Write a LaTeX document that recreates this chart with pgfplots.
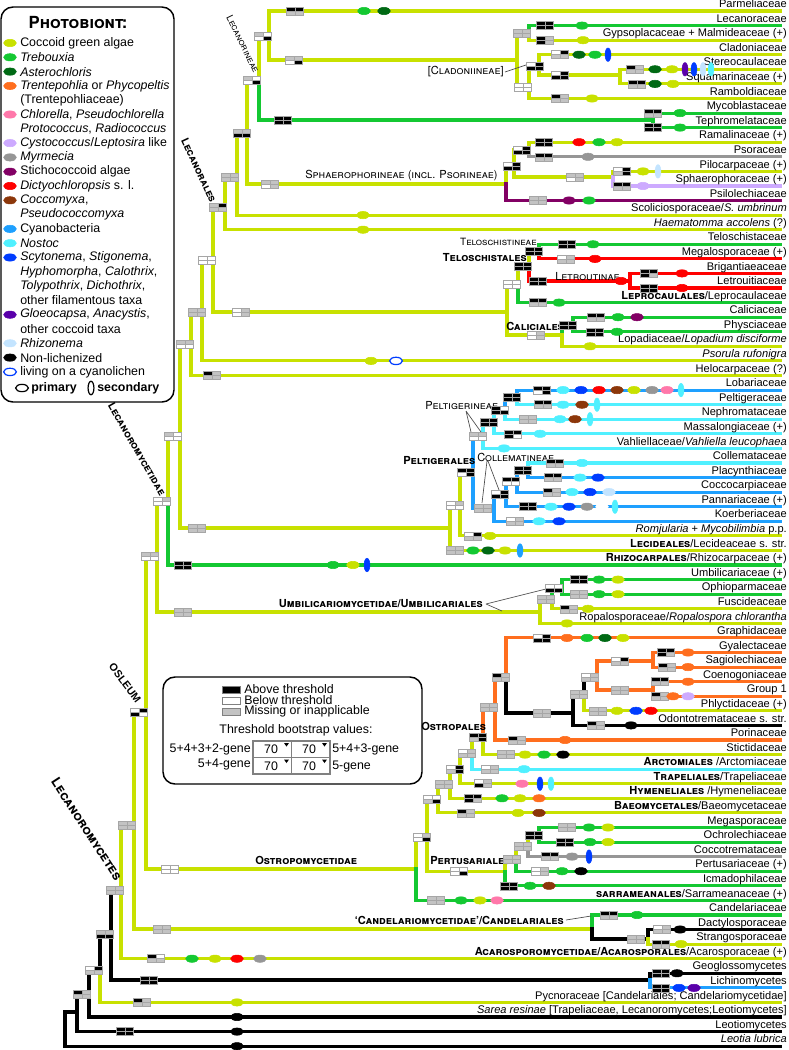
\documentclass[border=0pt]{standalone}
\usepackage{fontspec}
\setmainfont{Liberation Sans}
\newfontfamily\hsc{TeX Gyre Heros}
\usepackage{pgfplots}
\usepackage{pgfplotstable}
\pgfplotsset{compat=1.18}

\definecolor{cLime}{RGB}{200,225,0}
\definecolor{cTreb}{RGB}{20,200,50}
\definecolor{cAster}{RGB}{0,105,20}
\definecolor{cTrent}{RGB}{255,110,30}
\definecolor{cChlor}{RGB}{255,120,170}
\definecolor{cCysto}{RGB}{205,170,255}
\definecolor{cMyrm}{RGB}{150,150,150}
\definecolor{cStich}{RGB}{130,0,100}
\definecolor{cDict}{RGB}{255,0,0}
\definecolor{cCocco}{RGB}{140,55,10}
\definecolor{cCyano}{RGB}{30,160,255}
\definecolor{cNostoc}{RGB}{80,240,255}
\definecolor{cScyto}{RGB}{0,60,255}
\definecolor{cGloeo}{RGB}{90,0,170}
\definecolor{cRhizo}{RGB}{195,228,255}
\definecolor{cBox}{RGB}{195,195,195}

\newcommand\scx[1]{{\hsc\scshape #1}}
\newcommand\lfont{\fontsize{8.3}{9}\selectfont}
\newcommand\gfont{\fontsize{9.3}{10}\selectfont}

\pgfplotsset{
 brl/.style={line width=2.3pt, line join=miter, line cap=rect},
 eh/.style={only marks, mark=*, mark size=2.75pt, mark options={xscale=1.75, fill=#1, draw=#1}},
 ev/.style={only marks, mark=*, mark size=2.2pt, mark options={yscale=2.3, fill=#1, draw=#1}},
 boxm/.style={scatter, only marks, mark=square*, mark size=1.5pt, point meta=explicit symbolic,
   scatter/classes={K={fill=black,draw=gray!70}, W={fill=white,draw=gray!70}, G={fill=cBox,draw=gray!70}},
   mark options={xscale=2.15, line width=0.35pt}},
}
\newcommand\br[5]{\addplot[brl,color=#1] coordinates {(#2,#3)(#2,#4)(#5,#4)};}
\newcommand\leafl[2]{\node[anchor=base east, inner sep=0pt, yshift=2.5pt, font=\lfont] at (axis cs:787,#1) {#2};}
\newcommand\legi[2]{\node[anchor=west, inner sep=0pt, font=\gfont] at (axis cs:20,#1) {#2};}

\pgfplotstableread{
x y a b c d
295 11 K K G G
263 36 G W W K
294 60 G G W K
252 80 G W W K
283 120 K K K K
522 33 G G G G
545 25.6 K K K K
545 40.2 K G K G
535 66 W K K K
523 87 W W W W
560 54.7 W K G G
560 75 W K K K
635 69.3 K G G G
637 83.9 K K G G
560 98.5 K G G G
653 113.1 K K G G
653 127.6 K K K K
242 133 G G K K
230 177 G G G G
218 207 G K G G
270 184 G G W G
512 166 W K K K
522 150 W K K K
544 142.2 K K K K
544 156.8 K K G G
575 177 G G W G
622 171.4 W K G K
622 186 K K G G
538 200.5 G G G G
207 260 W W W W
241 312 W G W G
512 284 W W W W
523 266 K K K K
534 251 K K K K
567 244.3 K K K K
566 258.9 W G G G
538 281 K K K K
649 273.4 K K K G
649 288 K K K K
538 302.6 K K G G
536 335 W G W G
568 325 K K K K
596 317.2 K K G G
595 331.8 K K K K
197 312 G G G G
185 344 G G W W
212 375.5 K G G G
173 436 G W W W
162 501 W G W W
183 565 K K K K
197 528 G G G G
455 505 W G W W
455 550.5 G G G G
466 472 K K W K
473 535.9 W K G G
478 436 G G W W
489 422 K K K K
500 410 K W K K
512 397 K K K K
513 433.8 K K K W
528 419.2 G G G G
542 390.1 K K W K
543 404.7 K K G G
483 508 G G G G
500 494 W K K K
511 481 K K W W
523 470 K K K K
515 521.3 W G G G
528 506.7 K K K K
552 492.1 K G G G
555 463 K K G G
553 477.6 K K G G
150 556 G G W W
183 612 G G G G
546 599 G G G G
554 588 W W K K
579 579.6 K K K K
579 594.2 G G G G
569 608.8 K G G G
139 712 W K K W
170 869 W W W W
422 837 W G W K
436 900.4 G G G G
432 799 W W G K
459 871.2 W W W K
512 859 G G G G
523 846 G G G G
534 835 K K K K
567 827.5 G G G G
565 842.1 K K K K
550 856.6 K K G G
540 871.2 W G W G
509 885.8 K K K K
444 784 G G G G
466 812.9 K G G G
455 769 W K G K
473 798.3 K K K G
467 753 W G G G
483 783.7 W G K G
478 737 K K G K
490 769.2 W G G G
489 707 G G G G
506 754.6 G G G G
501 677 K G G G
517 740 K G G G
542 637.9 W K K K
542 713 G G G G
579 694 G G G G
596 725.4 K G G G
590 677 W G G G
598 710.8 G G G G
620 661 W K G G
620 690 G G G G
666 652.5 K K K G
667 667.1 K G G G
660 681.7 K K G G
660 696.3 K G G G
127 825 G G G G
162 929 G G G G
609 915 K K G G
636 939 G G G G
662 929.5 W G G G
661 944.1 K K G G
156 958.7 K W G G
115 890 G G G G
105 934 G G K K
149 980 K K K K
661 973.3 K K K K
661 987.9 K K K K
94 970 W K G G
142 1002.4 K G G G
82 994 K G G G
125 1031.6 K K K K
}\boxtab

\begin{document}
\begin{tikzpicture}
\begin{axis}[
  width=591.75pt, height=787.5pt, scale only axis,
  xmin=0, xmax=789, ymin=0, ymax=1050, y dir=reverse,
  enlargelimits=false, hide axis, clip=false]

% ---------- branches ----------
\br{black}{65}{1012}{1012}{77}
\br{black}{65}{1012}{1046.2}{780}
\br{black}{77}{1012}{994}{89}
\br{black}{77}{1012}{1031.6}{780}
\br{black}{89}{994}{970}{100}
\br{black}{89}{994}{1017}{780}
\br{black}{100}{970}{934}{111}
\br{cLime}{100}{970}{1002.4}{780}
\br{black}{111}{934}{890}{121}
\br{black}{111}{934}{980}{650}
\br{black}{650}{980}{973.3}{780}
\br{cCyano}{650}{980}{987.9}{780}
\br{cLime}{121}{890}{825}{134}
\br{cLime}{121}{890}{958.7}{780}
\br{cLime}{134}{825}{712}{146}
\br{cLime}{134}{825}{929}{592}
\br{cTreb}{592}{929}{915}{780}
\br{black}{592}{929}{939}{648}
\br{black}{648}{939}{929.5}{780}
\br{cLime}{648}{939}{944.1}{780}
\br{cLime}{146}{712}{556}{157}
\br{cLime}{146}{712}{869}{416}
\br{cLime}{416}{869}{837}{427}
\br{cTreb}{416}{869}{900.4}{780}
\br{cLime}{427}{837}{799}{438}
\br{cLime}{427}{837}{871.2}{505}
\br{cLime}{505}{871.2}{859}{516}
\br{cTreb}{505}{871.2}{885.8}{780}
\br{cLime}{516}{859}{846}{528}
\br{cTreb}{516}{859}{871.2}{780}
\br{cLime}{528}{846}{835}{539}
\br{cMyrm}{528}{846}{856.6}{780}
\br{cTreb}{539}{835}{827.5}{780}
\br{cTreb}{539}{835}{842.1}{780}
\br{cLime}{438}{799}{784}{450}
\br{cLime}{438}{799}{812.9}{780}
\br{cLime}{450}{784}{769}{460}
\br{cLime}{450}{784}{798.3}{780}
\br{cLime}{460}{769}{753}{472}
\br{cLime}{460}{769}{783.7}{780}
\br{cLime}{472}{753}{737}{483}
\br{cNostoc}{472}{753}{769.2}{780}
\br{cTrent}{483}{737}{707}{495}
\br{cLime}{483}{737}{754.6}{780}
\br{cTrent}{495}{707}{677}{506}
\br{cTrent}{495}{707}{740}{780}
\br{cTrent}{506}{677}{637.9}{780}
\br{black}{506}{677}{713}{573}
\br{black}{573}{713}{694}{584}
\br{black}{573}{713}{725.4}{780}
\br{black}{584}{694}{677}{597}
\br{cLime}{584}{694}{710.8}{780}
\br{cTrent}{597}{677}{661}{653}
\br{cTrent}{597}{677}{690}{653}
\br{cTrent}{653}{661}{652.5}{780}
\br{cTrent}{653}{661}{667.1}{780}
\br{cTrent}{653}{690}{681.7}{780}
\br{cTrent}{653}{690}{696.3}{780}
\br{cLime}{157}{556}{501}{168}
\br{cLime}{157}{556}{612}{540}
\br{cLime}{540}{612}{599}{552}
\br{cLime}{540}{612}{623.4}{780}
\br{cTreb}{552}{599}{588}{562}
\br{cLime}{552}{599}{608.8}{780}
\br{cTreb}{562}{588}{579.6}{780}
\br{cTreb}{562}{588}{594.2}{780}
\br{cLime}{168}{501}{436}{180}
\br{cTreb}{168}{501}{565}{780}
\br{cLime}{180}{436}{344}{191}
\br{cLime}{180}{436}{528}{450}
\br{cLime}{450}{528}{505}{460}
\br{cLime}{450}{528}{550.5}{780}
\br{cLime}{460}{505}{472}{473}
\br{cLime}{460}{505}{535.9}{780}
\br{cCyano}{473}{472}{436}{483}
\br{cCyano}{473}{472}{508}{494}
\br{cNostoc}{483}{436}{422}{494}
\br{cNostoc}{483}{436}{448.4}{780}
\br{cNostoc}{494}{422}{410}{505}
\br{cNostoc}{494}{422}{433.8}{780}
\br{cCyano}{505}{410}{397}{517}
\br{cNostoc}{505}{410}{419.2}{780}
\br{cCyano}{517}{397}{390.1}{780}
\br{cNostoc}{517}{397}{404.7}{780}
\br{cCyano}{494}{508}{494}{506}
\br{cCyano}{494}{508}{521.3}{780}
\br{cCyano}{506}{494}{481}{517}
\br{cCyano}{506}{494}{506.7}{780}
\br{cCyano}{517}{481}{470}{528}
\br{cCyano}{517}{481}{492.1}{780}
\br{cNostoc}{528}{470}{463}{780}
\br{cCyano}{528}{470}{477.6}{780}
\br{cLime}{191}{344}{312}{202}
\br{cLime}{191}{344}{375.5}{780}
\br{cLime}{202}{312}{260}{213}
\br{cLime}{202}{312}{360.9}{780}
\br{cLime}{213}{260}{207}{225}
\br{cLime}{213}{260}{312}{507}
\br{cLime}{225}{207}{177}{237}
\br{cLime}{225}{207}{229.7}{780}
\br{cLime}{237}{177}{133}{247}
\br{cLime}{237}{177}{215.1}{780}
\br{cLime}{247}{133}{80}{259}
\br{cLime}{247}{133}{184}{506}
\br{cLime}{259}{80}{36}{269}
\br{cTreb}{259}{80}{120}{653}
\br{cLime}{269}{36}{11}{780}
\br{cLime}{269}{36}{60}{517}
\br{cLime}{517}{60}{33}{529}
\br{cLime}{517}{60}{87}{529}
\br{cLime}{529}{87}{66}{539}
\br{cLime}{529}{87}{98.5}{780}
\br{cTreb}{529}{33}{25.6}{780}
\br{cLime}{529}{33}{40.2}{780}
\br{cLime}{539}{66}{54.7}{780}
\br{cLime}{539}{66}{75}{620}
\br{cLime}{620}{75}{69.3}{780}
\br{cLime}{620}{75}{83.9}{780}
\br{cTreb}{653}{120}{113.1}{780}
\br{cTreb}{653}{120}{127.6}{780}
\br{cLime}{506}{184}{166}{514}
\br{cStich}{506}{184}{200.5}{780}
\br{cLime}{514}{166}{150}{529}
\br{cLime}{514}{166}{177}{613}
\br{cLime}{529}{150}{142.2}{780}
\br{cMyrm}{529}{150}{156.8}{780}
\br{cLime}{613}{177}{171.4}{780}
\br{cCysto}{613}{177}{186}{780}
\br{cLime}{507}{312}{284}{518}
\br{cLime}{507}{312}{335}{562}
\br{cLime}{518}{284}{266}{529}
\br{cTreb}{518}{284}{302.6}{780}
\br{cLime}{529}{266}{251}{539}
\br{cDict}{529}{266}{281}{630}
\br{cTreb}{539}{251}{244.3}{780}
\br{cDict}{539}{251}{258.9}{780}
\br{cDict}{630}{281}{273.4}{780}
\br{cDict}{630}{281}{288}{780}
\br{cTreb}{562}{335}{325}{573}
\br{cLime}{562}{335}{346.3}{780}
\br{cTreb}{573}{325}{317.2}{780}
\br{cTreb}{573}{325}{331.8}{780}

% ---------- support boxes ----------
\addplot[boxm] table[x expr=\thisrow{x}-4.3, y expr=\thisrow{y}-2, meta=a] {\boxtab};
\addplot[boxm] table[x expr=\thisrow{x}+4.3, y expr=\thisrow{y}-2, meta=b] {\boxtab};
\addplot[boxm] table[x expr=\thisrow{x}-4.3, y expr=\thisrow{y}+2, meta=c] {\boxtab};
\addplot[boxm] table[x expr=\thisrow{x}+4.3, y expr=\thisrow{y}+2, meta=d] {\boxtab};

% ---------- photobiont ellipses ----------
\addplot[eh=cLime] coordinates {(10,43)(583,40.2)(672,69.3)(673,83.9)(592,98.5)(617,142.2)(643,171.4)(363,215.1)(363,229.7)(590,346.3)(371,360.9)(634,390.1)(505,550.5)(490,535.9)(353,565)(618,579.6)(618,594.2)(588,608.8)(567,623.4)(623,637.9)(617,710.8)(525,754.6)(520,798.3)(518,812.9)(608,827.5)(608,842.1)(480,900.4)(681,944.1)(215,958.7)(237,1002.4)};
\addplot[eh=cTreb] coordinates {(10,57.3)(364,11)(582,25.6)(595,54.7)(680,113.1)(680,127.6)(599,142.2)(589,200.5)(593,244.3)(559,302.6)(618,317.2)(617,331.8)(473,550.5)(333,565)(599,579.6)(599,594.2)(587,637.9)(544,754.6)(502,798.3)(589,827.5)(590,842.1)(562,871.2)(530,885.8)(461,900.4)(637,915)(192,958.7)};
\addplot[eh=cAster] coordinates {(10,71.6)(384,11)(579,54.7)(655,69.3)(655,83.9)(488,550.5)(605,637.9)};
\addplot[eh=cTrent] coordinates {(10,85.9)(567,637.9)(688,652.5)(688,667.1)(688,681.7)(673,696.3)(565,740)(539,798.3)};
\addplot[eh=cChlor] coordinates {(10,114.5)(667,390.1)(522,783.7)(497,900.4)};
\addplot[eh=cCysto] coordinates {(10,143.1)(643,186)(688,696.3)};
\addplot[eh=cMyrm] coordinates {(10,157.4)(588,156.8)(652,390.1)(587,506.7)(572,856.6)(260,958.7)};
\addplot[eh=cStich] coordinates {(10,171.7)(569,200.5)(637,317.2)};
\addplot[eh=cDict] coordinates {(10,186)(579,142.2)(595,258.9)(621,281)(682,273.4)(682,288)(599,390.1)(651,710.8)(237,958.7)};
\addplot[eh=cCocco] coordinates {(10,200.3)(617,390.1)(582,404.7)(575,419.2)(539,812.9)(549,885.8)};
\addplot[eh=cCyano] coordinates {(10,228.9)};
\addplot[eh=cNostoc] coordinates {(10,243.2)(563,390.1)(563,404.7)(560,419.2)(540,433.8)(504,448.4)(582,463)(580,477.6)(572,492.1)(551,506.7)(539,521.3)(524,769.2)};
\addplot[eh=cScyto] coordinates {(10,257.5)(581,390.1)(598,477.6)(590,492.1)(569,506.7)(559,521.3)(636,710.8)(679,987.9)};
\addplot[eh=cGloeo] coordinates {(10,314.7)(694,987.9)};
\addplot[eh=cRhizo] coordinates {(10,343.3)(609,492.1)};
\addplot[eh=black] coordinates {(10,357.6)(631,725.4)(563,754.6)(581,871.2)(680,929.5)(677,973.3)(237,1017)(237,1031.6)(237,1046.2)};
\addplot[eh=white] coordinates {(602,506.7)};
\addplot[only marks, mark=*, mark size=2.75pt, mark options={xscale=1.75, fill=white, draw=cScyto, line width=0.9pt}] coordinates {(396,360.9)(10,371.9)};
\addplot[only marks, mark=*, mark size=2.75pt, mark options={xscale=1.75, fill=white, draw=black, line width=0.9pt}] coordinates {(22,388)};
\addplot[only marks, mark=*, mark size=2.2pt, mark options={yscale=2.3, fill=white, draw=black, line width=0.9pt}] coordinates {(91,388)};
\addplot[ev=cScyto] coordinates {(608,54.7)(694,69.3)(367,565)(540,783.7)(589,856.6)};
\addplot[ev=cGloeo] coordinates {(685,69.3)};
\addplot[ev=cRhizo] coordinates {(703,69.3)(658,171.4)};
\addplot[ev=cNostoc] coordinates {(711,69.3)(681,390.1)(597,404.7)(590,419.2)(615,506.7)(551,783.7)};
\addplot[ev=cCyano] coordinates {(520,550.5)};

\node[font=\bfseries\fontsize{7}{7}\selectfont] at (axis cs:589,201) {?};
\node[font=\bfseries\fontsize{7}{7}\selectfont] at (axis cs:559,303) {?};
\node[font=\bfseries\fontsize{7}{7}\selectfont] at (axis cs:602,507) {?};

% ---------- leaf labels ----------
\leafl{11}{Parmeliaceae}
\leafl{25.6}{Lecanoraceae}
\leafl{40.2}{Gypsoplacaceae + Malmideaceae (+)}
\leafl{54.7}{Cladoniaceae}
\leafl{69.3}{Stereocaulaceae}
\leafl{83.9}{Squamarinaceae (+)}
\leafl{98.5}{Ramboldiaceae}
\leafl{113.1}{Mycoblastaceae}
\leafl{127.6}{Tephromelataceae}
\leafl{142.2}{Ramalinaceae (+)}
\leafl{156.8}{Psoraceae}
\leafl{171.4}{Pilocarpaceae (+)}
\leafl{186}{Sphaerophoraceae (+)}
\leafl{200.5}{Psilolechiaceae}
\leafl{215.1}{Scoliciosporaceae/\textit{S. umbrinum}}
\leafl{229.7}{\textit{Haematomma accolens} (?)}
\leafl{244.3}{Teloschistaceae}
\leafl{258.9}{Megalosporaceae (+)}
\leafl{273.4}{Brigantiaeaceae}
\leafl{288}{Letrouitiaceae}
\leafl{302.6}{\textbf{\scx{Leprocaulales}}/Leprocaulaceae}
\leafl{317.2}{Caliciaceae}
\leafl{331.8}{Physciaceae}
\leafl{346.3}{Lopadiaceae/\textit{Lopadium disciforme}}
\leafl{360.9}{\textit{Psorula rufonigra}}
\leafl{375.5}{Helocarpaceae (?)}
\leafl{390.1}{Lobariaceae}
\leafl{404.7}{Peltigeraceae}
\leafl{419.2}{Nephromataceae}
\leafl{433.8}{Massalongiaceae (+)}
\leafl{448.4}{Vahliellaceae/\textit{Vahliella leucophaea}}
\leafl{463}{Collemataceae}
\leafl{477.6}{Placynthiaceae}
\leafl{492.1}{Coccocarpiaceae}
\leafl{506.7}{Pannariaceae (+)}
\leafl{521.3}{Koerberiaceae}
\leafl{535.9}{\textit{Romjularia} + \textit{Mycobilimbia} p.p.}
\leafl{550.5}{\textbf{\scx{Lecideales}}/Lecideaceae s. str.}
\leafl{565}{\textbf{\scx{Rhizocarpales}}/Rhizocarpaceae (+)}
\leafl{579.6}{Umbilicariaceae (+)}
\leafl{594.2}{Ophioparmaceae}
\leafl{608.8}{Fuscideaceae}
\leafl{623.4}{Ropalosporaceae/\textit{Ropalospora chlorantha}}
\leafl{637.9}{Graphidaceae}
\leafl{652.5}{Gyalectaceae}
\leafl{667.1}{Sagiolechiaceae}
\leafl{681.7}{Coenogoniaceae}
\leafl{696.3}{Group 1}
\leafl{710.8}{Phlyctidaceae (+)}
\leafl{725.4}{Odontotremataceae s. str.}
\leafl{740}{Porinaceae}
\leafl{754.6}{Stictidaceae}
\leafl{769.2}{\textbf{\scx{Arctomiales}} /Arctomiaceae}
\leafl{783.7}{\textbf{\scx{Trapeliales}}/Trapeliaceae}
\leafl{798.3}{\textbf{\scx{Hymeneliales}} /Hymeneliaceae}
\leafl{812.9}{\textbf{\scx{Baeomycetales}}/Baeomycetaceae}
\leafl{827.5}{Megasporaceae}
\leafl{842.1}{Ochrolechiaceae}
\leafl{856.6}{Coccotremataceae}
\leafl{871.2}{Pertusariaceae (+)}
\leafl{885.8}{Icmadophilaceae}
\leafl{900.4}{\textbf{\scx{sarrameanales}}/Sarrameanaceae (+)}
\leafl{915}{Candelariaceae}
\leafl{929.5}{Dactylosporaceae}
\leafl{944.1}{Strangosporaceae}
\leafl{958.7}{\textbf{\scx{Acarosporomycetidae/Acarosporales}}/Acarosporaceae (+)}
\leafl{973.3}{Geoglossomycetes}
\leafl{987.9}{Lichinomycetes}
\leafl{1002.4}{Pycnoraceae [Candelariales; Candelariomycetidae]}
\leafl{1017}{\textit{Sarea resinae} [Trapeliaceae, Lecanoromycetes;Leotiomycetes]}
\leafl{1031.6}{Leotiomycetes}
\leafl{1046.2}{\textit{Leotia lubrica}}

% ---------- clade labels ----------
\node[anchor=east, inner sep=0pt, font=\lfont] at (axis cs:504,72) {\scx{[Cladoniineae]}};
\draw[black!70, line width=0.5pt] (axis cs:505,72) -- (axis cs:529,64);
\node[anchor=west, inner sep=0pt, font=\lfont] at (axis cs:305,176) {\scx{Sphaerophorineae (incl. Psorineae)}};
\node[anchor=east, inner sep=0pt, font=\fontsize{7.5}{8}\selectfont] at (axis cs:537,242) {\scx{Teloschistineae}};
\node[anchor=east, inner sep=0pt, font=\lfont\bfseries] at (axis cs:527,258) {\scx{Teloschistales}};
\node[anchor=west, inner sep=0pt, font=\lfont] at (axis cs:555,277) {\scx{Letroutinae}};
\node[anchor=west, inner sep=0pt, font=\lfont\bfseries] at (axis cs:506,326) {\scx{Caliciales}};
\node[anchor=west, inner sep=0pt, font=\lfont] at (axis cs:425,406) {\scx{Peltigerineae}};
\draw[black!70, line width=0.5pt] (axis cs:466,411) -- (axis cs:471,432) (axis cs:466,411) -- (axis cs:481,432);
\node[anchor=west, inner sep=0pt, font=\lfont\bfseries] at (axis cs:403,461) {\scx{Peltigerales}};
\node[anchor=west, inner sep=0pt, font=\lfont] at (axis cs:477,457) {\scx{Collematineae}};
\draw[black!70, line width=0.5pt] (axis cs:487,461) -- (axis cs:482,503) (axis cs:488,461) -- (axis cs:499,490);
\node[anchor=east, inner sep=0pt, font=\lfont\bfseries] at (axis cs:483,604) {\scx{Umbilicariomycetidae/Umbilicariales}};
\draw[black!70, line width=0.5pt] (axis cs:486,604) -- (axis cs:546,589) (axis cs:486,604) -- (axis cs:502,611);
\node[anchor=west, inner sep=0pt, font=\lfont\bfseries] at (axis cs:421,726) {\scx{Ostropales}};
\node[anchor=west, inner sep=0pt, font=\lfont\bfseries] at (axis cs:430,861) {\scx{Pertusariales}};
\node[anchor=west, inner sep=0pt, font=\lfont\bfseries] at (axis cs:255,860) {\scx{Ostropomycetidae}};
\node[anchor=east, inner sep=0pt, font=\lfont\bfseries] at (axis cs:564,920) {\scx{‘Candelariomycetidae’/Candelariales}};
\draw[black!70, line width=0.5pt] (axis cs:566,920) -- (axis cs:591,916);
\node[rotate=-64, inner sep=0pt, font=\fontsize{7.2}{8}\selectfont] at (axis cs:243,44) {\scx{Lecanorineae}};
\node[rotate=-65, inner sep=0pt, font=\fontsize{8}{9}\selectfont\bfseries] at (axis cs:199,170) {\scx{Lecanorales}};
\node[rotate=-60, inner sep=0pt, font=\fontsize{8}{9}\selectfont\bfseries] at (axis cs:137,449) {\scx{Lecanoromycetidae}};
\node[rotate=-53, inner sep=0pt, font=\fontsize{8}{9}\selectfont\bfseries] at (axis cs:125,683) {OSLEUM};
\node[rotate=-57, inner sep=0pt, font=\fontsize{10}{11}\selectfont\bfseries] at (axis cs:87,829) {\scx{Lecanoromycetes}};

% ---------- photobiont legend ----------
\draw[rounded corners=9pt, line width=1.1pt] (axis cs:1,7) rectangle (axis cs:174,402);
\node[inner sep=0pt, font=\fontsize{12.5}{13}\selectfont\bfseries] at (axis cs:78,22) {\scx{Photobiont:}};
\legi{43}{Coccoid green algae}
\legi{57.3}{\textit{Trebouxia}}
\legi{71.6}{\textit{Asterochloris}}
\legi{85.9}{\textit{Trentepohlia} or \textit{Phycopeltis}}
\legi{100.2}{(Trentepohliaceae)}
\legi{114.5}{\textit{Chlorella}, \textit{Pseudochlorella}}
\legi{128.8}{\textit{Protococcus}, \textit{Radiococcus}}
\legi{143.1}{\textit{Cystococcus}/\textit{Leptosira} like}
\legi{157.4}{\textit{Myrmecia}}
\legi{171.7}{Stichococcoid algae}
\legi{186}{\textit{Dictyochloropsis} s. l.}
\legi{200.3}{\textit{Coccomyxa},}
\legi{214.6}{\textit{Pseudococcomyxa}}
\legi{228.9}{Cyanobacteria}
\legi{243.2}{\textit{Nostoc}}
\legi{257.5}{\textit{Scytonema}, \textit{Stigonema},}
\legi{271.8}{\textit{Hyphomorpha}, \textit{Calothrix},}
\legi{286.1}{\textit{Tolypothrix}, \textit{Dichothrix},}
\legi{300.4}{other filamentous taxa}
\legi{314.7}{\textit{Gloeocapsa}, \textit{Anacystis},}
\legi{329}{other coccoid taxa}
\legi{343.3}{\textit{Rhizonema}}
\legi{357.6}{Non-lichenized}
\legi{371.9}{living on a cyanolichen}
\node[anchor=west, inner sep=0pt, font=\gfont\bfseries] at (axis cs:31,388) {primary};
\node[anchor=west, inner sep=0pt, font=\gfont\bfseries] at (axis cs:97,388) {secondary};

% ---------- threshold legend ----------
\draw[rounded corners=9pt, line width=1.1pt] (axis cs:163,677) rectangle (axis cs:422,784);
\draw[fill=black, draw=gray] (axis cs:222,686) rectangle (axis cs:240,693);
\draw[fill=white, draw=gray] (axis cs:222,697) rectangle (axis cs:240,704);
\draw[fill=cBox, draw=gray] (axis cs:222,708) rectangle (axis cs:240,715);
\node[anchor=west, inner sep=0pt, font=\gfont] at (axis cs:244,689.5) {Above threshold};
\node[anchor=west, inner sep=0pt, font=\gfont] at (axis cs:244,700.5) {Below threshold};
\node[anchor=west, inner sep=0pt, font=\gfont] at (axis cs:244,711.5) {Missing or inapplicable};
\node[inner sep=0pt, font=\gfont] at (axis cs:296,730) {Threshold bootstrap values:};
\draw[gray, line width=0.8pt] (axis cs:253,741) rectangle (axis cs:330,774) (axis cs:291.5,741) -- (axis cs:291.5,774) (axis cs:253,757.5) -- (axis cs:330,757.5);
\node[inner sep=0pt, font=\gfont] at (axis cs:271,749.5) {70};
\node[inner sep=0pt, font=\gfont] at (axis cs:309,749.5) {70};
\node[inner sep=0pt, font=\gfont] at (axis cs:271,766) {70};
\node[inner sep=0pt, font=\gfont] at (axis cs:309,766) {70};
\fill (axis cs:284,743) -- (axis cs:289,743) -- (axis cs:286.5,746.5) -- cycle;
\fill (axis cs:322,743) -- (axis cs:327,743) -- (axis cs:324.5,746.5) -- cycle;
\fill (axis cs:284,759.5) -- (axis cs:289,759.5) -- (axis cs:286.5,763) -- cycle;
\fill (axis cs:322,759.5) -- (axis cs:327,759.5) -- (axis cs:324.5,763) -- cycle;
\node[anchor=east, inner sep=0pt, font=\gfont] at (axis cs:251,749.5) {5+4+3+2-gene};
\node[anchor=east, inner sep=0pt, font=\gfont] at (axis cs:251,765) {5+4-gene};
\node[anchor=west, inner sep=0pt, font=\gfont] at (axis cs:332,749.5) {5+4+3-gene};
\node[anchor=west, inner sep=0pt, font=\gfont] at (axis cs:332,767) {5-gene};

\coordinate (BL) at (axis cs:0,1050);
\coordinate (TR) at (axis cs:789,0);
\end{axis}
\pgfresetboundingbox
\path (BL) rectangle (TR);
\end{tikzpicture}
\end{document}
